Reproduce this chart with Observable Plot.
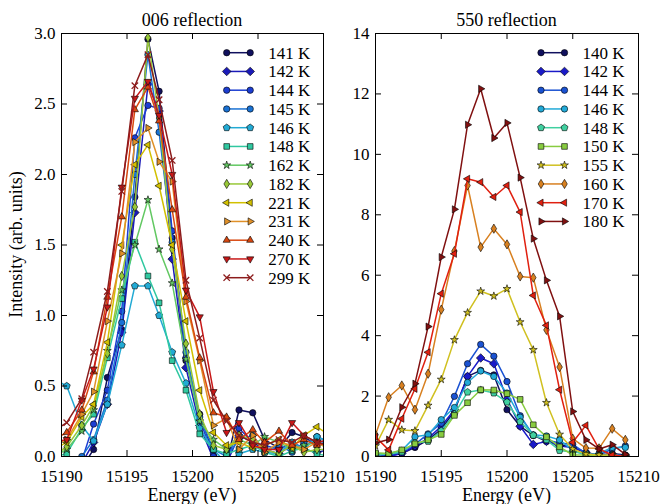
<!DOCTYPE html>
<html><head><meta charset="utf-8">
<script src="https://cdn.jsdelivr.net/npm/d3@7"></script>
<script src="https://cdn.jsdelivr.net/npm/@observablehq/plot@0.6"></script>
<style>
body{margin:0;background:#fff;}
#wrap{position:relative;width:664px;height:504px;overflow:hidden;background:#fff;}
#wrap svg{position:absolute;top:0;}
</style></head><body><div id="wrap"></div>
<script>
// ---------- 006 reflection data ----------
const energy006 = [15189.4, 15190.4, 15191.55, 15192.45, 15193.5, 15194.6, 15195.6, 15196.6, 15197.45, 15198.45, 15199.5, 15200.55, 15201.6, 15202.6, 15203.55, 15204.6, 15205.5, 15206.6, 15207.6, 15208.5, 15209.5, 15210.5];
const labels006 = ["141 K","142 K","144 K","145 K","146 K","148 K","162 K","182 K","221 K","231 K","240 K","270 K","299 K"];
const i006_141 = [-0.15,-0.10,-0.08,0.05,0.56,0.90,1.84,2.96,2.59,1.55,0.68,0.30,0.02,-0.05,0.33,0.31,0.12,0.06,0.17,0.14,0.08,0.10];
const i006_142 = [-0.15,-0.12,-0.05,0.10,0.37,0.88,1.73,2.64,2.45,1.40,0.63,0.22,-0.02,-0.05,0.15,0.10,0.05,0.02,0.08,0.05,0.03,0.05];
const i006_144 = [-0.10,-0.08,-0.03,0.23,0.47,1.03,2.26,2.49,2.47,1.60,0.70,0.26,0.00,-0.03,0.20,0.10,0.08,0.05,0.10,0.06,0.14,0.10];
const i006_145 = [-0.05,-0.05,0.00,0.12,0.40,0.95,2.00,2.85,2.30,1.52,0.74,0.28,0.05,0.00,0.12,0.15,0.04,0.08,0.03,0.10,0.12,0.08];
const i006_146 = [0.55,0.50,0.22,0.11,0.37,0.79,1.21,1.21,1.00,0.74,0.52,0.20,0.05,-0.05,0.02,0.05,0.03,0.02,0.10,0.05,0.14,0.10];
const i006_148 = [0.00,0.02,0.20,0.30,0.70,1.12,1.52,1.28,1.09,0.68,0.47,0.16,0.05,0.02,0.05,0.08,0.03,0.00,0.04,0.06,0.02,0.00];
const i006_162 = [0.00,0.05,0.18,0.33,0.75,1.18,1.50,1.82,1.47,1.23,0.69,0.25,0.12,0.05,0.12,0.08,0.14,0.10,0.05,0.08,0.10,0.05];
const i006_182 = [0.00,0.07,0.22,0.36,0.73,1.28,1.77,2.97,2.40,1.47,0.80,0.30,0.08,0.05,0.15,0.12,0.05,0.02,0.08,0.03,0.05,0.05];
const i006_221 = [0.05,0.10,0.28,0.37,0.81,1.50,2.07,2.21,1.92,1.50,0.96,0.47,0.17,0.08,0.10,0.06,0.08,0.12,0.06,0.15,0.21,0.15];
const i006_231 = [0.08,0.12,0.30,0.46,0.96,1.44,2.23,2.33,2.09,1.95,1.10,0.68,0.22,0.27,0.05,0.15,0.03,0.10,0.08,0.05,0.10,0.05];
const i006_240 = [0.12,0.17,0.33,0.60,1.13,1.70,2.46,2.62,2.38,1.75,1.13,0.70,0.31,0.28,0.12,0.19,0.10,0.18,0.08,0.12,0.08,0.10];
const i006_270 = [0.10,0.12,0.40,0.62,1.06,1.91,2.54,2.66,2.42,2.00,1.18,0.99,0.46,0.17,0.24,0.08,0.05,0.05,0.24,0.15,0.10,0.12];
const i006_299 = [0.18,0.24,0.41,0.74,1.17,1.88,2.63,2.85,2.53,2.10,1.25,0.84,0.40,0.25,0.15,0.10,0.08,0.12,0.10,0.15,0.10,0.08];
const yTicks006 = [0, 0.5, 1.0, 1.5, 2.0, 2.5, 3.0];

// ---------- 550 reflection data ----------
const energy550 = [15190,15191,15192,15193,15194,15195,15196,15197,15198,15199,15200,15201,15202,15203,15204,15205,15206,15207,15208,15209];
const labels550 = ["140 K","142 K","144 K","146 K","148 K","150 K","155 K","160 K","170 K","180 K"];
const i550_140 = [0.10,0.02,0.10,0.30,0.55,0.90,1.50,2.65,2.85,2.70,1.55,1.00,0.70,0.50,0.40,0.30,0.12,0.05,0.10,0.05];
const i550_142 = [0.05,0.00,0.10,0.35,0.60,1.00,1.55,2.65,3.26,3.07,1.90,1.00,0.40,0.50,0.35,0.30,0.15,0.02,0.08,0.02];
const i550_144 = [0.10,0.05,0.15,0.40,0.75,1.10,1.99,3.07,3.71,3.32,2.48,1.35,0.70,0.55,0.45,0.40,0.10,0.05,0.25,0.35];
const i550_146 = [0.05,0.10,0.20,0.65,0.72,1.22,1.62,2.45,2.83,2.65,2.10,1.30,0.72,0.68,0.55,0.20,0.05,0.10,0.30,0.30];
const i550_148 = [0.05,0.08,0.15,0.45,0.50,0.85,1.40,2.13,2.20,2.10,1.80,1.15,0.70,0.55,0.20,0.15,0.10,0.02,0.05,0.02];
const i550_150 = [0.12,0.10,0.22,0.42,0.55,0.73,1.36,1.78,2.21,2.20,2.08,1.89,1.05,0.65,0.32,0.05,0.05,0.02,0.02,0.00];
const i550_155 = [0.35,1.22,0.88,0.85,1.69,2.55,3.86,4.76,5.47,5.31,5.55,4.45,3.53,1.78,0.73,0.25,0.08,0.05,0.05,0.00];
const i550_160 = [0.72,1.96,2.35,1.55,2.74,4.86,6.80,8.97,6.93,7.54,7.02,5.96,5.92,4.19,2.96,0.59,0.28,0.27,0.92,0.55];
const i550_170 = [0.65,0.22,1.25,2.24,3.45,5.39,6.71,9.19,9.08,8.59,8.97,8.09,5.33,4.34,2.21,0.47,1.03,0.25,0.05,0.00];
const i550_180 = [0.45,0.56,1.63,2.41,4.30,6.60,8.18,10.98,12.17,10.54,11.04,9.23,7.21,5.83,4.64,1.49,0.55,0.25,0.39,0.07];
const yTicks550 = [0, 2, 4, 6, 8, 10, 12, 14];

const xTicks = [15190, 15195, 15200, 15205, 15210];

// ---------- styles ----------
const colors006 = ["#10105e","#1a1ab8","#1c3ed2","#1a72d4","#22aad4","#30c8a0","#62c862","#98c838","#d2c000","#e09028","#d84810","#c81818","#8c1c1c"];
const symbols006 = ["circle","diamond","circle","circle","pentagon","square","star","thin","left","right","up","down","x"];
const colors550 = ["#10105e","#1a1ac8","#1a52d2","#22aad8","#40d0a0","#88cc40","#d0c020","#d88020","#e02010","#801010"];
const symbols550 = ["circle","diamond","circle","circle","pentagon","square","star","thin","left","right"];

const FONT = "'Liberation Serif','Times New Roman',serif";

function poly(pts){ return {draw(ctx, size){ const r = Math.sqrt(size/Math.PI); pts(r).forEach(([x,y],k)=> k ? ctx.lineTo(x,y) : ctx.moveTo(x,y)); ctx.closePath(); }}; }
function tri(a0){ return poly(r => [0,1,2].map(k => { const a = a0 + k*2*Math.PI/3; return [1.3*r*Math.cos(a), 1.3*r*Math.sin(a)]; })); }
const SHAPES = {
  circle: d3.symbolCircle,
  square: d3.symbolSquare,
  star: {draw(ctx, size){ d3.symbolStar.draw(ctx, size*0.6); }},
  diamond: poly(r => { const a = 1.35*r; return [[0,-a],[a,0],[0,a],[-a,0]]; }),
  thin: poly(r => { const a = 1.45*r; return [[0,-a],[0.6*a,0],[0,a],[-0.6*a,0]]; }),
  pentagon: poly(r => [0,1,2,3,4].map(k => { const a = -Math.PI/2 + k*2*Math.PI/5; return [1.15*r*Math.cos(a), 1.15*r*Math.sin(a)]; })),
  up: tri(-Math.PI/2), down: tri(Math.PI/2), left: tri(Math.PI), right: tri(0),
  x: {draw(ctx, size){ const a = 1.0*Math.sqrt(size/Math.PI); ctx.moveTo(-a,-a); ctx.lineTo(a,a); ctx.moveTo(-a,a); ctx.lineTo(a,-a); }}
};
const R = 3.2;

function panel({left, width, mL, mR, energy, series, labels, colors, symbols, yDomain, yTicks, yFmt, title, ylabel, legX}) {
  const mT = 33, mB = 48, H = 504;
  const fw = width - mL - mR, fh = H - mT - mB;
  const marks = [];
  series.forEach((vals, s) => {
    const rows = energy.map((x, i) => ({x, y: vals[i]}));
    const isX = symbols[s] === "x";
    marks.push(Plot.line(rows, {x: "x", y: "y", stroke: colors[s], strokeWidth: 1.5, clip: true}));
    marks.push(Plot.dot(rows, {x: "x", y: "y", symbol: SHAPES[symbols[s]], r: R,
      fill: isX ? "none" : colors[s], stroke: isX ? colors[s] : "black", strokeWidth: isX ? 1.3 : 0.6, clip: true}));
  });
  marks.push(Plot.frame({stroke: "black", strokeWidth: 1}));
  marks.push(Plot.tickX(xTicks, {x: d => d, insetTop: fh - 6, stroke: "black"}));
  marks.push(Plot.tickX(xTicks, {x: d => d, insetBottom: fh - 6, stroke: "black"}));
  marks.push(Plot.tickY(yTicks, {y: d => d, insetRight: fw - 6, stroke: "black"}));
  marks.push(Plot.tickY(yTicks, {y: d => d, insetLeft: fw - 6, stroke: "black"}));
  marks.push(Plot.axisX({ticks: xTicks, tickSize: 0, tickPadding: 13, tickFormat: d3.format("d"), label: null}));
  marks.push(Plot.axisY({ticks: yTicks, tickSize: 0, tickPadding: 6, tickFormat: yFmt, label: null}));
  const svg = Plot.plot({
    width, height: H, marginLeft: mL, marginRight: mR, marginTop: mT, marginBottom: mB,
    x: {domain: [15190, 15210]}, y: {domain: yDomain},
    style: {fontFamily: FONT, fontSize: "17px", color: "black", background: "none", overflow: "visible"},
    marks
  });
  svg.style.left = left + "px";
  const g = d3.select(svg);
  const cx = mL + fw / 2;
  g.append("text").attr("x", cx).attr("y", 26).attr("text-anchor", "middle")
    .attr("font-family", FONT).attr("font-size", 18).attr("fill", "black").text(title);
  g.append("text").attr("x", cx).attr("y", 501).attr("text-anchor", "middle")
    .attr("font-family", FONT).attr("font-size", 18).attr("fill", "black").text("Energy (eV)");
  if (ylabel) g.append("text").attr("transform", `translate(${22 - left},${mT + fh/2}) rotate(-90)`).attr("text-anchor", "middle")
    .attr("font-family", FONT).attr("font-size", 18).attr("fill", "black").text(ylabel);
  // legend
  const lg = g.append("g").attr("text-anchor", "start");
  labels.forEach((lab, s) => {
    const y = 52.7 + s * 18.75;
    const x1 = legX - left, x2 = x1 + 23.5;
    const isX = symbols[s] === "x";
    lg.append("line").attr("x1", x1).attr("x2", x2).attr("y1", y).attr("y2", y).attr("stroke", colors[s]).attr("stroke-width", 1.5);
    [x1, x2].forEach(x => lg.append("path").attr("transform", `translate(${x},${y})`)
      .attr("d", d3.symbol(SHAPES[symbols[s]], R * R * Math.PI)())
      .attr("fill", isX ? "none" : colors[s]).attr("stroke", isX ? colors[s] : "black").attr("stroke-width", isX ? 1.3 : 0.6));
    lg.append("text").attr("x", x2 + 18).attr("y", y).attr("dy", "0.35em").attr("text-anchor", "start")
      .attr("font-family", FONT).attr("font-size", 17).attr("fill", "black").text(lab);
  });
  return svg;
}

const wrap = document.getElementById("wrap");
wrap.append(panel({left: 0, width: 332, mL: 61, mR: 9, energy: energy006,
  series: [i006_141,i006_142,i006_144,i006_145,i006_146,i006_148,i006_162,i006_182,i006_221,i006_231,i006_240,i006_270,i006_299],
  labels: labels006, colors: colors006, symbols: symbols006, yDomain: [0, 3], yTicks: yTicks006, yFmt: d3.format(".1f"),
  title: "006 reflection", ylabel: "Intensity (arb. units)", legX: 226.7}));
wrap.append(panel({left: 332, width: 332, mL: 43, mR: 26, energy: energy550,
  series: [i550_140,i550_142,i550_144,i550_146,i550_148,i550_150,i550_155,i550_160,i550_170,i550_180],
  labels: labels550, colors: colors550, symbols: symbols550, yDomain: [0, 14], yTicks: yTicks550, yFmt: d3.format("d"),
  title: "550 reflection", ylabel: null, legX: 541}));
</script></body></html>
